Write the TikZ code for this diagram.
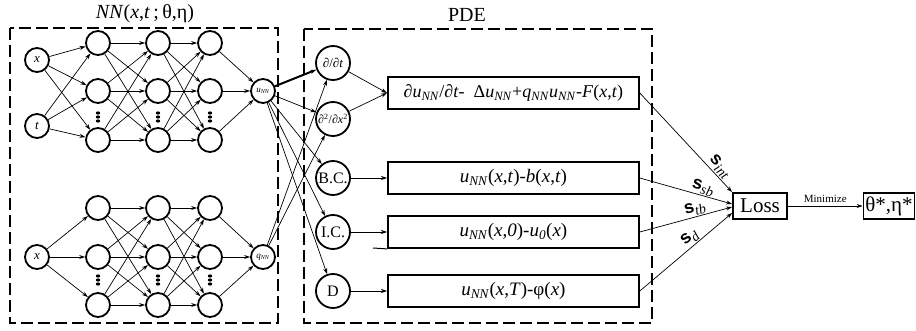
\documentclass[tikz,border=0pt]{standalone}
\usepackage{fontspec}
\setmainfont{Liberation Serif}
\newfontfamily\sansbold{Liberation Sans}
\usetikzlibrary{arrows.meta}
\newcommand{\nnsub}[1]{\textit{#1}\textsubscript{\textit{NN}}}
\newcommand{\weightlbl}[1]{{\sansbold\bfseries\fontsize{18}{18}\selectfont s}\raisebox{-4pt}{\fontsize{14}{14}\itshape #1}}

\begin{document}
\begin{tikzpicture}[x=1pt,y=-1pt,
	neuron/.style={circle,draw,line width=1.8pt,minimum size=24pt,inner sep=0pt,font=\fontsize{13}{13}\selectfont},
	opnode/.style={circle,draw,line width=1.8pt,minimum size=34pt,inner sep=0pt,font=\fontsize{16}{16}\selectfont},
	resbox/.style={draw,line width=1.8pt,minimum width=251pt,minimum height=32pt,inner sep=0pt,anchor=west,font=\fontsize{19}{19}\selectfont},
	endbox/.style={draw,line width=1.8pt,minimum height=26pt,inner sep=1pt,font=\fontsize{21}{21}\selectfont},
	frame/.style={line width=1.8pt,dash pattern=on 12pt off 5pt},
	link/.style={-{Stealth[length=6pt,width=4pt]},line width=0.7pt}]
	%%%%% START %%%%%
	\useasboundingbox (0,0) rectangle (916,331);
	
	\draw[frame] (10,28) rectangle (278,323);
	\draw[frame] (304,29) rectangle (652,323);
	\node[font=\fontsize{20}{20}\selectfont] (nntitle) at (145,14) {\textit{NN}(\textit{x},\textit{t}\,;\,θ,η)};
	\node[font=\fontsize{20}{20}\selectfont] (pdetitle) at (467,15) {PDE};
	
	% network for u
	\node[neuron] (inx) at (37,60) {\textit{x}};
	\node[neuron] (int) at (37,126) {\textit{t}};
	\foreach \c/\xx in {1/98,2/158,3/210} {
		\foreach \r/\yy in {1/43,2/91,3/140}
			\node[neuron] (a\c\r) at (\xx,\yy) {};
		\foreach \yy in {113,117,121}
			\fill (\xx,\yy) ellipse (2.2 and 1.6);
	}
	\node[neuron,font=\fontsize{9}{9}\selectfont] (unn) at (263,91) {\nnsub{u}};
	
	% network for q
	\node[neuron] (inq) at (37,257) {\textit{x}};
	\foreach \c/\xx in {1/98,2/158,3/210} {
		\foreach \r/\yy in {1/208,2/257,3/305}
			\node[neuron] (b\c\r) at (\xx,\yy) {};
		\foreach \yy in {276,280,284}
			\fill (\xx,\yy) ellipse (2.2 and 1.6);
	}
	\node[neuron,font=\fontsize{9}{9}\selectfont] (qnn) at (263,257) {\nnsub{q}};
	
	\foreach \r in {1,2,3} {
		\draw[link] (inx) -- (a1\r);
		\draw[link] (int) -- (a1\r);
		\draw[link] (inq) -- (b1\r);
		\draw[link] (a3\r) -- (unn);
		\draw[link] (b3\r) -- (qnn);
		\foreach \s in {1,2,3} {
			\draw[link] (a1\r) -- (a2\s);
			\draw[link] (a2\r) -- (a3\s);
			\draw[link] (b1\r) -- (b2\s);
			\draw[link] (b2\r) -- (b3\s);
		}
	}
	
	% PDE operators
	\node[opnode,font=\fontsize{13}{13}\selectfont] (dt) at (333,63) {∂/∂\textit{t}};
	\node[opnode,font=\fontsize{12}{12}\selectfont] (dxx) at (333,119) {∂\textsuperscript{2}/∂\textit{x}\textsuperscript{2}};
	\node[opnode] (bc) at (333,178) {B.C.};
	\node[opnode] (ic) at (333,232) {I.C.};
	\node[opnode] (dd) at (333,291) {D};
	
	\draw[line width=2pt,-{Stealth[length=6pt,width=4pt]}] (unn) -- (dt);
	\draw[link] (unn) -- (dxx);
	\draw[link] (unn) -- (bc);
	\draw[link] (unn) -- (ic);
	\draw[link] (unn) -- (dd);
	\draw[link] (qnn) -- (dt);
	\draw[link] (qnn) -- (dxx);
	
	% residuals
	\node[resbox,font=\fontsize{18}{18}\selectfont] (res1) at (387,93) {∂\nnsub{u}/∂\textit{t}-\ \ Δ\nnsub{u}+\nnsub{q}\nnsub{u}-\textit{F}(\textit{x},\textit{t})};
	\node[resbox] (res2) at (387,178) {\nnsub{u}(\textit{x},\textit{t})-\textit{b}(\textit{x},\textit{t})};
	\node[resbox] (res3) at (387,232) {\nnsub{u}(\textit{x},\textit{0})-\textit{u}\textsubscript{\textit{0}}(\textit{x})};
	\node[resbox] (res4) at (387,291) {\nnsub{u}(\textit{x},\textit{T})-φ(\textit{x})};
	\draw[line width=1pt] (373,248) -- (res3.south west);
	
	\draw[link] (dt) -- (res1.west);
	\draw[link] (dxx) -- (res1.west);
	\draw[link] (bc) -- (res2);
	\draw[link] (ic) -- (res3);
	\draw[link] (dd) -- (res4);
	
	% loss
	\node[endbox,minimum width=54pt] (loss) at (760,206) {Loss};
	\node[endbox,minimum width=51pt] (theta) at (889,206) {θ*,η*};
	\draw[link] (loss) -- node[above,font=\fontsize{11}{11}\selectfont] {Minimize} (theta);
	
	\draw[link] (res1.east) -- node[sloped,above,pos=0.8,inner sep=1pt] {\weightlbl{int}} (loss.north west);
	\draw[link] (res2.east) -- node[sloped,above,pos=0.66,inner sep=0.5pt] {\weightlbl{sb}} ([yshift=2pt]loss.west);
	\draw[link] (res3.east) -- node[sloped,above,pos=0.62,inner sep=0.5pt] {\weightlbl{tb}} ([yshift=-1pt]loss.west);
	\draw[link] (res4.east) -- node[sloped,above,pos=0.6,inner sep=1pt] {\weightlbl{d}} ([yshift=-7pt]loss.west);
	%%%%% END %%%%%
\end{tikzpicture}
\end{document}
